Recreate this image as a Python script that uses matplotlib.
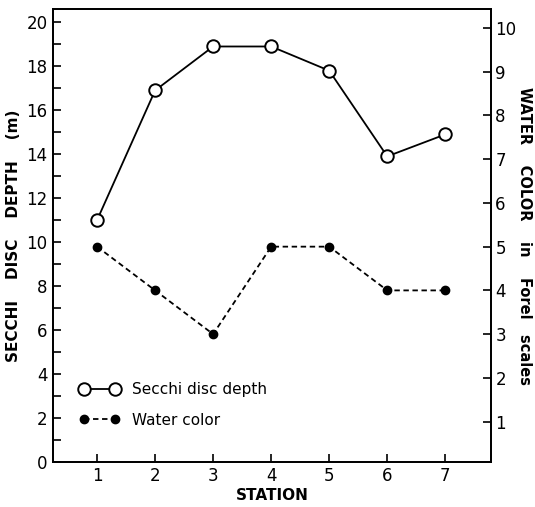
import matplotlib
matplotlib.use("Agg")
import matplotlib.pyplot as plt
from matplotlib.ticker import MultipleLocator

# data
stations = [1, 2, 3, 4, 5, 6, 7]
secchi_depth = [11.0, 16.9, 18.9, 18.9, 17.8, 13.9, 14.9]   # m, left axis
water_color = [5, 4, 3, 5, 5, 4, 4]                          # Forel scale, right axis

left_ticks = [0, 2, 4, 6, 8, 10, 12, 14, 16, 18, 20]
right_ticks = [1, 2, 3, 4, 5, 6, 7, 8, 9, 10]

fig = plt.figure(figsize=(5.35, 5.07), dpi=100)
ax = fig.add_axes([0.099, 0.089, 0.819, 0.893])
ax2 = ax.twinx()

ax.plot(stations, secchi_depth, color='black', lw=1.3, marker='o', ms=9,
        mfc='white', mec='black', mew=1.4, label='Secchi disc depth', zorder=3)
ax2.plot(stations, water_color, color='black', lw=1.3, ls=(0, (3, 2)),
         marker='o', ms=6, mfc='black', mec='black', label='Water color', zorder=3)

ax.set_xlim(0.24, 7.79)
ax.set_ylim(0, 20.6)
ax2.set_ylim(0.08, 10.43)

ax.set_xticks(stations)
ax.set_yticks(left_ticks)
ax.yaxis.set_minor_locator(MultipleLocator(1))
ax2.set_yticks(right_ticks)

for a in (ax, ax2):
    for s in a.spines.values():
        s.set_linewidth(1.3)
ax.tick_params(axis='both', which='both', direction='in', labelsize=12, width=1.2)
ax.tick_params(axis='y', which='major', length=6, pad=4)
ax.tick_params(axis='y', which='minor', length=6)
ax.tick_params(axis='x', length=6, pad=4)
ax2.tick_params(axis='y', direction='in', labelsize=12, length=6, width=1.2, pad=3)

ax.set_xlabel('STATION', fontsize=11, fontweight='bold', labelpad=2)
ax.set_ylabel('SECCHI    DISC    DEPTH    (m)', fontsize=11, fontweight='bold', labelpad=4)
ax2.set_ylabel('WATER    COLOR    in    Forel   scales', fontsize=10.5, fontweight='bold',
               rotation=-90, labelpad=11)

h1, l1 = ax.get_legend_handles_labels()
h2, l2 = ax2.get_legend_handles_labels()
ax.legend(h1 + h2, l1 + l2, loc='lower left', bbox_to_anchor=(0.03, 0.045),
          frameon=False, fontsize=11, numpoints=2, handlelength=2.6,
          labelspacing=1.0)

plt.savefig('out.png', dpi=100)
